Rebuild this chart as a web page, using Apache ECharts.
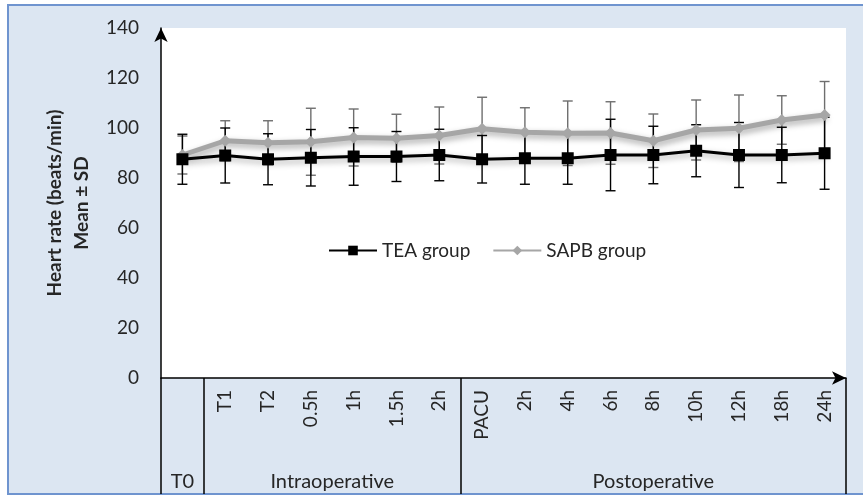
<!DOCTYPE html>
<html>
<head>
<meta charset="utf-8">
<script src="https://cdn.jsdelivr.net/npm/echarts@6/dist/echarts.min.js"></script>
<style>
  html, body { margin: 0; padding: 0; background: #fff; }
  #chart { width: 863px; height: 497px; }
</style>
</head>
<body>
<div id="chart"></div>
<script>
// time points (index 0 is T0, then intraoperative, then postoperative)
const categories = ['T0', 'T1', 'T2', '0.5h', '1h', '1.5h', '2h', 'PACU', '2h', '4h', '6h', '8h', '10h', '12h', '18h', '24h']
const groupLabels = ['T0', 'Intraoperative', 'Postoperative']
const groupCenters = [0, 3.5, 11]
const groupEdges = [-0.5, 0.5, 6.5, 15.5]

const teaMean = [87.5, 89.0, 87.5, 88.1, 88.6, 88.6, 89.2, 87.5, 87.9, 87.9, 89.2, 89.2, 90.9, 89.2, 89.2, 89.9]
const teaSd = [10, 11, 10.2, 11.3, 11.5, 10, 10.3, 9.5, 10.4, 10.4, 14.3, 11.5, 10.4, 13, 11.1, 14.4]
const sapbMean = [89.2, 94.9, 94.1, 94.5, 96.2, 95.9, 97.0, 99.7, 98.3, 97.9, 98.0, 94.9, 99.2, 99.9, 103.2, 105.2]
const sapbSd = [7.6, 8, 8.8, 13.4, 11.4, 9.6, 11.4, 12.6, 9.8, 12.9, 12.5, 10.7, 12, 13.3, 9.7, 13.4]

const yTicks = [0, 20, 40, 60, 80, 100, 120, 140]

const font = 'Lato'
const textColor = '#262626'

function errorBars(name, means, sds, color) {
  return {
    name: name,
    type: 'custom',
    xAxisIndex: 0,
    z: 1,
    silent: true,
    data: means.map((m, i) => [i, m - sds[i], m + sds[i]]),
    renderItem(params, api) {
      const lo = api.coord([api.value(0), api.value(1)])
      const hi = api.coord([api.value(0), api.value(2)])
      const w = 5
      const style = { stroke: color, lineWidth: 1.4 }
      return {
        type: 'group',
        children: [
          { type: 'line', shape: { x1: hi[0], y1: hi[1], x2: lo[0], y2: lo[1] }, style },
          { type: 'line', shape: { x1: hi[0] - w, y1: hi[1], x2: hi[0] + w, y2: hi[1] }, style },
          { type: 'line', shape: { x1: lo[0] - w, y1: lo[1], x2: lo[0] + w, y2: lo[1] }, style },
        ],
      }
    },
  }
}

const chart = echarts.init(document.getElementById('chart'))

chart.setOption({
  backgroundColor: '#fff',
  animation: false,
  textStyle: { fontFamily: font },
  graphic: [
    {
      type: 'rect',
      z: -10,
      shape: { x: 8, y: 5, width: 900, height: 489 },
      style: { fill: '#dce6f2', stroke: '#6f94cf', lineWidth: 2 },
    },
  ],
  grid: {
    left: 161,
    right: 17,
    top: 28,
    bottom: 119,
    show: true,
    backgroundColor: '#fff',
    borderWidth: 0,
    containLabel: false,
    outerBoundsMode: 'none',
  },
  legend: {
    data: ['TEA group', 'SAPB group'],
    left: 323,
    top: 236,
    itemWidth: 48,
    itemHeight: 12,
    itemGap: 22,
    textStyle: { fontSize: 19, color: textColor, fontFamily: font },
  },
  xAxis: [
    {
      type: 'category',
      data: categories,
      boundaryGap: true,
      axisLine: {
        onZero: false,
        lineStyle: { color: '#000', width: 1.5 },
        symbol: ['none', 'arrow'],
        symbolSize: [10, 14],
      },
      axisTick: { show: false },
      axisLabel: {
        interval: 0,
        rotate: 90,
        margin: 12,
        fontSize: 19,
        color: textColor,
        formatter: (v, i) => (i === 0 ? '' : v),
      },
      splitLine: { show: false },
    },
    {
      type: 'value',
      position: 'bottom',
      min: -0.5,
      max: 15.5,
      axisLine: { show: false, onZero: false },
      splitLine: { show: false },
      axisTick: {
        show: true,
        customValues: groupEdges,
        length: 116,
        lineStyle: { color: '#000', width: 1.5 },
      },
      axisLabel: {
        customValues: groupCenters,
        margin: 94,
        fontSize: 20,
        color: textColor,
        formatter: v => groupLabels[groupCenters.indexOf(v)] || '',
      },
    },
  ],
  yAxis: {
    type: 'value',
    min: yTicks[0],
    max: yTicks[yTicks.length - 1],
    interval: 20,
    name: 'Heart rate (beats/min)\nMean ± SD',
    nameLocation: 'middle',
    nameRotate: 90,
    nameGap: 65,
    nameTextStyle: { fontSize: 19, fontWeight: 'bold', color: textColor, lineHeight: 27 },
    axisLine: {
      show: true,
      onZero: false,
      lineStyle: { color: '#000', width: 1.5 },
      symbol: ['none', 'arrow'],
      symbolSize: [10, 14],
    },
    axisTick: { show: false },
    axisLabel: { fontSize: 19, color: textColor, margin: 22 },
    splitLine: { show: false },
  },
  series: [
    errorBars('SAPB sd', sapbMean, sapbSd, '#6e6e6e'),
    errorBars('TEA sd', teaMean, teaSd, '#000'),
    {
      name: 'SAPB group',
      type: 'line',
      data: sapbMean,
      z: 3,
      symbol: 'diamond',
      symbolSize: 12,
      itemStyle: { color: '#a6a6a6' },
      lineStyle: {
        color: '#a6a6a6',
        width: 5,
        shadowColor: 'rgba(0,0,0,0.35)',
        shadowBlur: 6,
        shadowOffsetX: 2,
        shadowOffsetY: 3,
      },
    },
    {
      name: 'TEA group',
      type: 'line',
      data: teaMean,
      z: 4,
      symbol: 'rect',
      symbolSize: 12,
      itemStyle: { color: '#000' },
      lineStyle: {
        color: '#000',
        width: 3,
        shadowColor: 'rgba(0,0,0,0.35)',
        shadowBlur: 6,
        shadowOffsetX: 2,
        shadowOffsetY: 3,
      },
    },
  ],
})
</script>
</body>
</html>
